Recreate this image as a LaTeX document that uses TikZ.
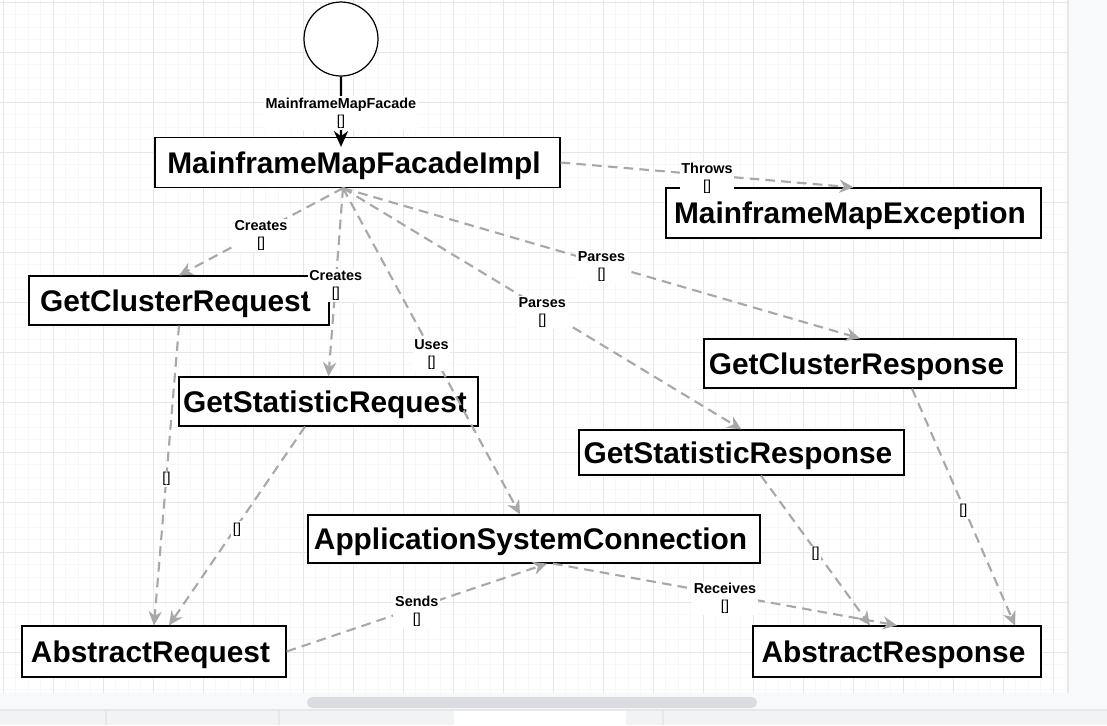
\documentclass[tikz,border=0pt]{standalone}
\usepackage{fontspec}
\setmainfont{Liberation Sans}
\usetikzlibrary{arrows.meta}
\definecolor{edgegray}{RGB}{168, 168, 168}
\definecolor{gridminor}{RGB}{248, 248, 248}
\definecolor{gridmajor}{RGB}{231, 231, 231}
\definecolor{chromegray}{RGB}{248, 249, 250}
\definecolor{bargray}{RGB}{218, 220, 224}
\definecolor{tabgray}{RGB}{241, 243, 244}
\newcommand{\emptylist}{{\mdseries[]}}

\begin{document}
\begin{tikzpicture}[x=0.02cm, y=-0.02cm,
  classbox/.style={draw=black, line width=0.7pt, fill=white, inner sep=0pt,
    minimum height=1cm, text height=15.5pt, text depth=3.5pt,
    font=\fontsize{17}{20}\selectfont\bfseries,
    execute at end node=\hspace{0.14cm}},
  dep/.style={draw=edgegray, line width=1.2pt, dash pattern=on 5.5pt off 3.5pt,
    -{Stealth[length=8pt, width=7.5pt, fill=edgegray]}},
  deplabel/.style={fill=white, inner sep=1pt, align=center, yshift=-2pt,
    font=\fontsize{8.2}{9.6}\selectfont\bfseries}]
  \useasboundingbox (0,0) rectangle (1107,725);

  % Canvas and grid
  \fill[white] (0,0) rectangle (1068,693);
  \foreach \gx in {3,15.5,...,1066} \draw[gridminor, line width=0.35pt] (\gx,0) -- (\gx,693);
  \foreach \gy in {2,14.5,...,692} \draw[gridminor, line width=0.35pt] (0,\gy) -- (1068,\gy);
  \foreach \gx in {3,53,...,1060} \draw[gridmajor, line width=0.55pt] (\gx,0) -- (\gx,693);
  \foreach \gy in {2,52,...,690} \draw[gridmajor, line width=0.55pt] (0,\gy) -- (1068,\gy);

  % Window chrome
  \fill[chromegray] (1068,0) rectangle (1107,725);
  \draw[gridmajor, line width=0.6pt] (1068,0) -- (1068,693);
  \fill[chromegray] (0,693) rectangle (1068,710);
  \fill[bargray, rounded corners=3pt] (307,697) rectangle (757,708);
  \fill[tabgray] (0,710) rectangle (1107,725);
  \draw[gridmajor, line width=0.6pt] (0,710) -- (1107,710);
  \foreach \tx in {106,279,663} \draw[gridmajor, line width=0.6pt] (\tx,710) -- (\tx,725);
  \fill[white] (454,711) rectangle (626,725);

  % Classes
  \node[circle, draw=black, line width=0.7pt, fill=white, minimum size=1.48cm, inner sep=0pt] (facade) at (341,39) {};
  \node[classbox, minimum width=8.1cm] (impl) at (357.5,162.5) {MainframeMapFacadeImpl};
  \node[classbox, minimum width=7.5cm] (exception) at (853.5,213) {MainframeMapException};
  \node[classbox, minimum width=6cm, minimum height=0.98cm] (clusterreq) at (179,300.5) {GetClusterRequest};
  \node[classbox, minimum width=5.98cm, minimum height=0.98cm] (statreq) at (328.5,401.5) {GetStatisticRequest};
  \node[classbox, minimum width=6.24cm, minimum height=0.98cm] (clusterresp) at (860,363.5) {GetClusterResponse};
  \node[classbox, minimum width=6.5cm, minimum height=0.9cm] (statresp) at (741.5,452.5) {GetStatisticResponse};
  \node[classbox, minimum width=9.04cm, minimum height=0.96cm] (connection) at (534,539) {ApplicationSystemConnection};
  \node[classbox, minimum width=5.28cm, minimum height=1.02cm] (absreq) at (154,651.5) {AbstractRequest};
  \node[classbox, minimum width=5.76cm, minimum height=1.02cm] (absresp) at (897,651.5) {AbstractResponse};

  \coordinate (hub) at ([xshift=-0.29cm]impl.south);

  % Interface
  \draw[line width=1.3pt, -{Stealth[length=9pt, width=8pt]}] (facade.south) --
    node[deplabel, pos=0.47] {MainframeMapFacade\\\emptylist} ([xshift=-0.33cm, yshift=-0.2cm]impl.north);

  % Dependencies of the facade
  \draw[dep] (impl.east) -- node[deplabel] {Throws\\\emptylist} (exception.north);
  \draw[dep] (hub) -- node[deplabel] {Creates\\\emptylist} (clusterreq.north);
  \draw[dep] (hub) -- node[deplabel] {Creates\\\emptylist} (statreq.north);
  \draw[dep] (hub) -- node[deplabel] {Uses\\\emptylist} ([xshift=-0.28cm]connection.north);
  \draw[dep] (hub) -- node[deplabel] {Parses\\\emptylist} (statresp.north);
  \draw[dep] (hub) -- node[deplabel] {Parses\\\emptylist} (clusterresp.north);

  % Inheritance
  \draw[dep] (clusterreq.south) -- node[deplabel] {\emptylist} (absreq.north);
  \draw[dep] ([xshift=-0.47cm]statreq.south) -- node[deplabel] {\emptylist} ([xshift=0.3cm]absreq.north);
  \draw[dep] ([xshift=0.39cm]statresp.south) -- node[deplabel] {\emptylist} ([xshift=-0.54cm]absresp.north);
  \draw[dep] ([xshift=1.04cm]clusterresp.south) -- node[deplabel] {\emptylist} ([xshift=2.36cm]absresp.north);

  % Connection
  \draw[dep] (absreq.east) -- node[deplabel] {Sends\\\emptylist} ([xshift=0.26cm]connection.south);
  \draw[dep] ([xshift=0.38cm]connection.south) -- node[deplabel] {Receives\\\emptylist} (absresp.north);
\end{tikzpicture}
\end{document}
